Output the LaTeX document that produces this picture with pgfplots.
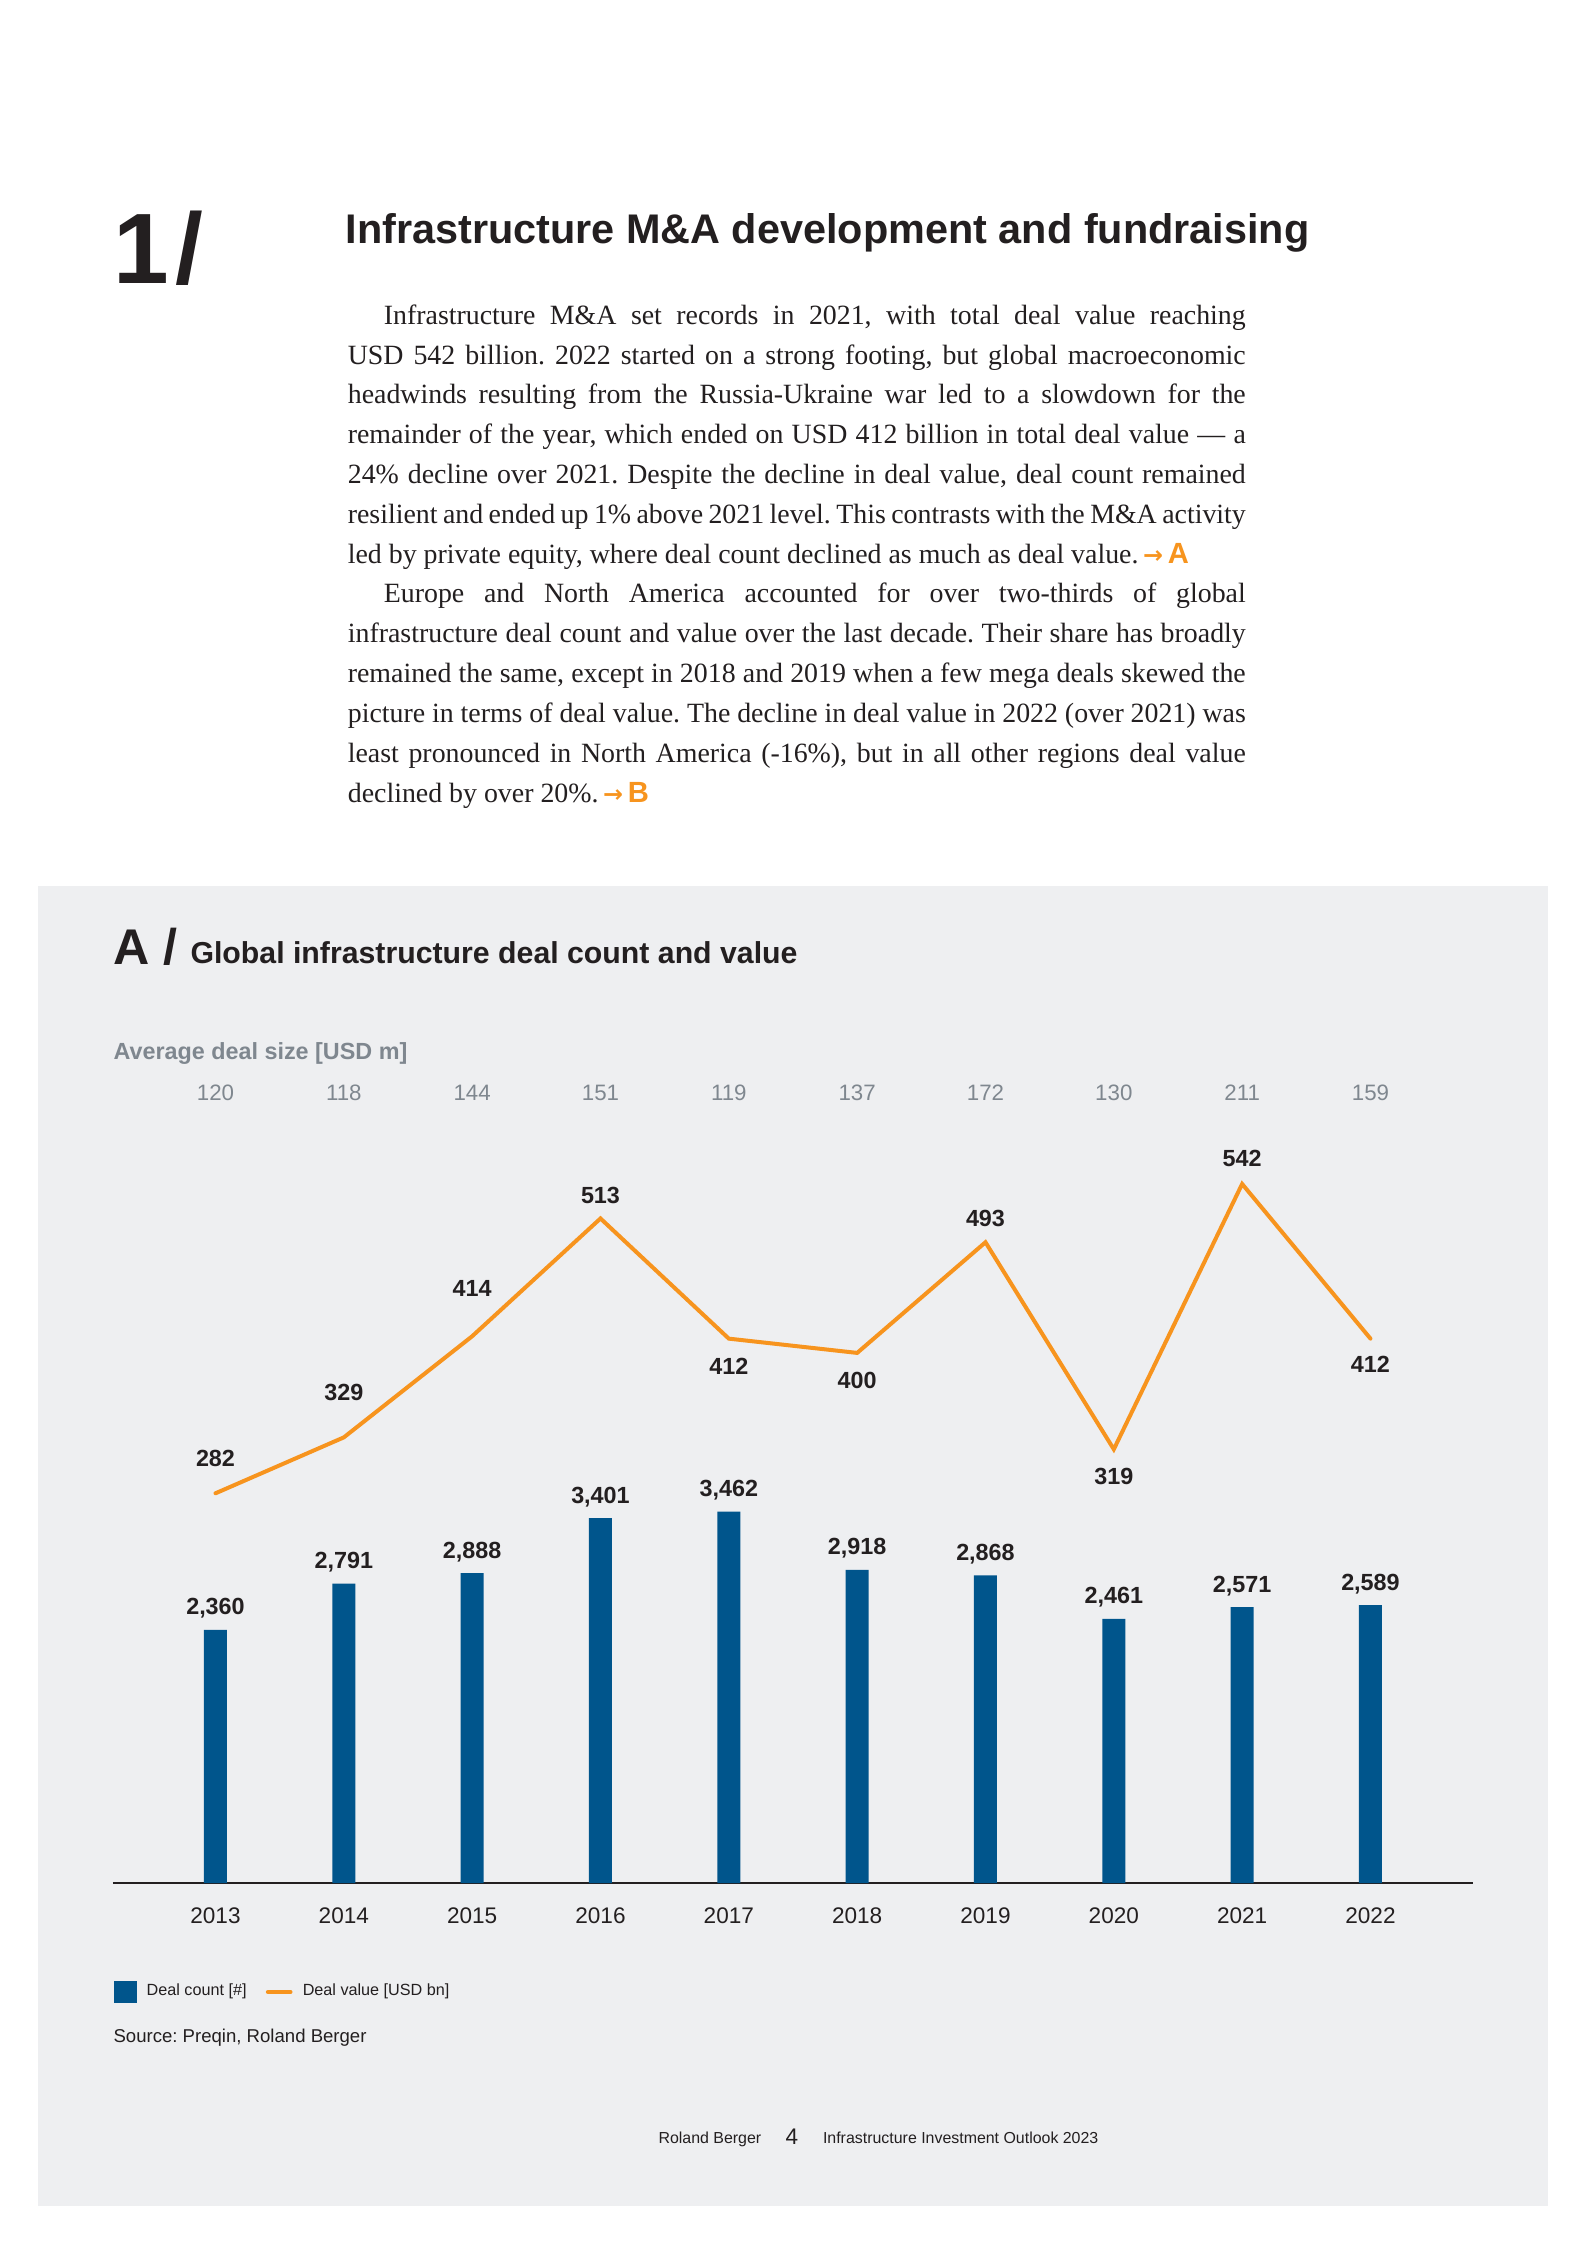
\documentclass[border=0pt]{standalone}
\usepackage{fontspec}
\setmainfont{Liberation Serif}
\newfontfamily\arial{Liberation Sans}
\newfontfamily\djv{DejaVu Sans}
\usepackage{pgfplots}
\usepackage{pgfplotstable}
\pgfplotsset{compat=1.18}

\definecolor{rbblue}{HTML}{00558C}
\definecolor{rborange}{HTML}{F7941E}
\definecolor{panel}{HTML}{EEEFF1}
\definecolor{ink}{HTML}{231F20}
\definecolor{avggray}{HTML}{7F878F}

% year index, deal count, deal value (USD bn), label shift (pt), average deal size (USD m)
\pgfplotstableread{
x count value off avg
0 2360 282 10.2 120
1 2791 329 13.9 118
2 2888 414 15.1 144
3 3401 513 5.7 151
4 3462 412 -13.6 119
5 2918 400 -13.4 137
6 2868 493 6.0 172
7 2461 319 -13.2 130
8 2571 542 6.5 211
9 2589 412 -12.8 159
}\deals

\newcommand{\orangeref}[1]{{\color{rborange}\,{\djv\bfseries\fontsize{9}{11}\selectfont →}\,{\arial\bfseries\fontsize{11}{13}\selectfont #1}}}

\begin{document}
\frenchspacing
\begin{tikzpicture}[x=0.13241mm,y=0.13241mm]
% page and panel
\fill[white] (0,0) rectangle (1586,2244);
\fill[panel] (37.5,38) rectangle (1548,1358);

% section heading
\node[anchor=base west,inner sep=0pt,text=ink] at (113,1960)
  {\arial\bfseries\fontsize{37.7}{40}\selectfont 1\kern2.3pt/};
\node[anchor=base west,inner sep=0pt,text=ink] at (345,2000)
  {\arial\bfseries\fontsize{15.6}{18}\selectfont Infrastructure M\&A development and fundraising};

% body text
\node[anchor=base west,inner sep=0pt,text=ink] at (347.3,1919.7){%
\parbox[t]{118.9mm}{\setlength{\parindent}{4.77mm}\fontsize{10.5}{15}\selectfont
\frenchspacing\hyphenpenalty=10000 \tolerance=10000 \spaceskip=0.25em plus 0.6em minus 0.12em
Infrastructure M\&A set records in 2021, with total deal value reaching\linebreak
USD 542 billion. 2022 started on a strong footing, but global macroeconomic\linebreak
headwinds resulting from the Russia-Ukraine war led to a slowdown for the\linebreak
remainder of the year, which ended on USD 412 billion in total deal value — a\linebreak
24\% decline over 2021. Despite the decline in deal value, deal count remained\linebreak
resilient and ended up 1\% above 2021 level. This contrasts with the M\&A activity\linebreak
led by private equity, where deal count declined as much as deal value.\orangeref{A}\par
Europe and North America accounted for over two-thirds of global\linebreak
infrastructure deal count and value over the last decade. Their share has broadly\linebreak
remained the same, except in 2018 and 2019 when a few mega deals skewed the\linebreak
picture in terms of deal value. The decline in deal value in 2022 (over 2021) was\linebreak
least pronounced in North America (-16\%), but in all other regions deal value\linebreak
declined by over 20\%.\orangeref{B}\par}};

% chart heading
\node[anchor=base west,inner sep=0pt,text=ink] at (113,1279)
  {\arial\bfseries\fontsize{18.9}{20}\selectfont A /};
\node[anchor=base west,inner sep=0pt,text=ink] at (190,1280)
  {\arial\bfseries\fontsize{11.4}{13}\selectfont Global infrastructure deal count and value};
\node[anchor=base west,inner sep=0pt,text=avggray] at (113,1184)
  {\arial\bfseries\fontsize{8.8}{10}\selectfont Average deal size [USD m]};

% deal count bars
\begin{axis}[
  at={(14.962mm,47.80mm)}, anchor=south west,
  scale only axis, width=180.08mm, height=97.06mm,
  xmin=-0.7987, xmax=9.7987, ymin=0, ymax=6831.3,
  clip=false,
  axis x line*=bottom, axis y line=none,
  x axis line style={draw=ink, line width=0.3mm},
  xtick={0,...,9},
  xticklabels={2013,2014,2015,2016,2017,2018,2019,2020,2021,2022},
  major tick length=0pt,
  xticklabel style={font=\arial\fontsize{8.5}{10}\selectfont, text=ink,
    anchor=base, yshift=-5.3mm, inner sep=0pt},
  legend style={at={(0,-0.1487)}, anchor=west, draw=none, fill=none,
    inner sep=0pt, nodes={inner sep=0pt},
    font=\arial\fontsize{6.1}{7}\selectfont, text=ink,
    /tikz/every odd column/.append style={column sep=1.35mm},
    /tikz/every even column/.append style={column sep=2.55mm}},
  legend columns=2, legend cell align=left,
]
\addplot[ybar, bar width=3.045mm, fill=rbblue, draw=none,
  legend image code/.code={\fill[rbblue] (0mm,-1.457mm) rectangle (3.045mm,1.457mm);},
  nodes near coords={\pgfmathprintnumber[assume math mode=true,1000 sep={,}]{\pgfplotspointmeta}},
  every node near coord/.append style={font=\arial\bfseries\fontsize{8.8}{10}\selectfont,
    text=ink, anchor=base, yshift=1.986mm, inner sep=0pt}]
  table[x=x,y=count]{\deals};
\addlegendentry{Deal count [\#]}
\addlegendimage{legend image code/.code={\draw[rborange, line width=0.622mm, line cap=round] (0mm,0mm) -- (2.913mm,0mm);}}
\addlegendentry{Deal value [USD bn]}
\end{axis}

% deal value line; its tick labels carry the average deal size row
\begin{axis}[
  at={(14.962mm,47.80mm)}, anchor=south west,
  scale only axis, width=180.08mm, height=97.06mm,
  xmin=-0.7987, xmax=9.7987, ymin=-45.56, ymax=570.56,
  clip=false,
  axis x line*=bottom, axis y line=none,
  x axis line style={draw=none},
  xtick={0,...,9},
  xticklabels from table={\deals}{avg},
  major tick length=0pt,
  xticklabel style={font=\arial\fontsize{8.4}{10}\selectfont, text=avggray,
    anchor=base, yshift=103.68mm, inner sep=0pt},
]
\addplot[rborange, line width=0.53mm, line cap=round, line join=miter,
  visualization depends on={\thisrow{off}\as\loff},
  nodes near coords={\pgfmathprintnumber[assume math mode=true]{\pgfplotspointmeta}},
  every node near coord/.append style={font=\arial\bfseries\fontsize{8.8}{10}\selectfont,
    text=ink, anchor=base, yshift=\loff pt, inner sep=0pt}]
  table[x=x,y=value]{\deals};
\end{axis}

% source and footer
\node[anchor=base west,inner sep=0pt,text=ink] at (113,201)
  {\arial\fontsize{7}{8}\selectfont Source: Preqin, Roland Berger};
\node[anchor=base west,inner sep=0pt,text=ink] at (658,100.7)
  {\arial\fontsize{6}{7}\selectfont Roland Berger};
\node[anchor=base west,inner sep=0pt,text=ink] at (785,99)
  {\arial\fontsize{8.5}{10}\selectfont 4};
\node[anchor=base west,inner sep=0pt,text=ink] at (822.5,100.7)
  {\arial\fontsize{6}{7}\selectfont Infrastructure Investment Outlook 2023};
\end{tikzpicture}
\end{document}
